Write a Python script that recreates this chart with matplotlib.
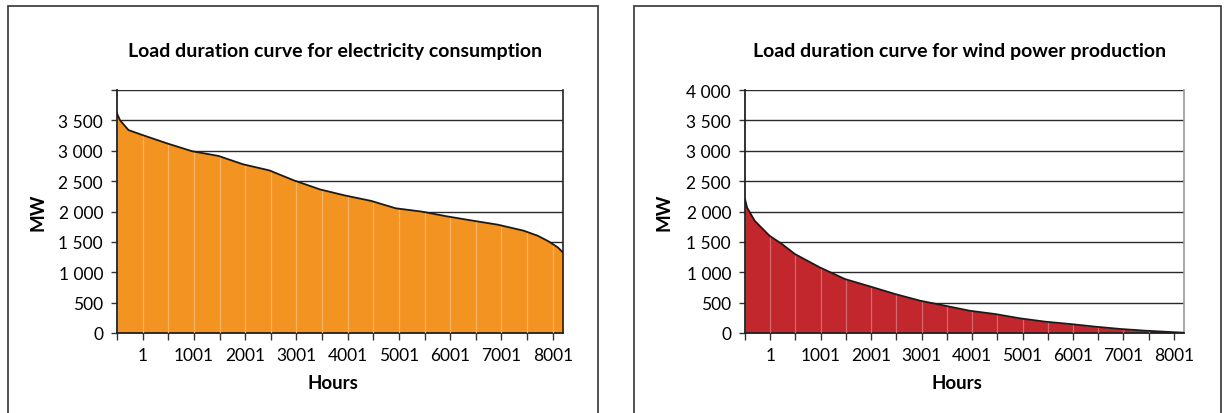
import numpy as np
import matplotlib
matplotlib.use("Agg")
import matplotlib.pyplot as plt
from matplotlib.patches import Rectangle

plt.rcParams['font.family'] = ['Lato', 'DejaVu Sans']

# hours position along the axis (axis runs 0..8700, label "1" sits at 500)
cons_hours = [0, 60, 225, 466, 985, 1466, 1977, 2459, 2970, 3451, 3962, 4451,
              4955, 5436, 5947, 6429, 6940, 7429, 7933, 8210, 8421, 8600, 8700]
cons_mw = [3615, 3500, 3340, 3268, 3119, 2992, 2915, 2777, 2677, 2512, 2363,
           2263, 2175, 2053, 1998, 1921, 1849, 1783, 1684, 1600, 1507, 1408, 1325]

wind_hours = [0, 40, 193, 487, 735, 990, 1485, 1980, 2475, 2977, 3472, 3967,
              4447, 4957, 5452, 5955, 6442, 6944, 7439, 7934, 8429, 8700]
wind_mw = [2203, 2066, 1846, 1600, 1463, 1299, 1079, 888, 767, 641, 531, 449,
           367, 312, 241, 186, 148, 104, 66, 38, 16, 5]

y_ticks = [0, 500, 1000, 1500, 2000, 2500, 3000, 3500, 4000]
y_labels = ["0", "500", "1 000", "1 500", "2 000", "2 500", "3 000", "3 500", "4 000"]
x_labels = ["1", "1001", "2001", "3001", "4001", "5001", "6001", "7001", "8001"]

W, H = 1227, 414
fig = plt.figure(figsize=(W / 100, H / 100), dpi=100)

# panel frames
for x0, x1 in [(8, 598), (634, 1221)]:
    fig.patches.append(Rectangle((x0 / W, -0.1), (x1 - x0) / W, 1.1 - 7 / H,
                                 transform=fig.transFigure, fill=False,
                                 edgecolor="#333333", linewidth=1.2))


def draw(ax, hours, mw, fill, light, title, rspine, show_top_label, tx, hx, mx):
    hours = np.array(hours)
    mw = np.array(mw)
    ax.set_xlim(0, 8700)
    ax.set_ylim(0, 4000)
    ax.set_yticks(y_ticks)
    labels = list(y_labels)
    if not show_top_label:
        labels[-1] = ""
    ax.set_yticklabels(labels, fontsize=12.5)
    for v in y_ticks[1:]:
        ax.axhline(v, color="#2a2a2a", lw=1.0, zorder=1)
    ax.fill_between(hours, 0, mw, color=fill, zorder=2, lw=0)
    ax.plot(hours, mw, color="#1a1a1a", lw=1.3, zorder=4)
    ticks = np.arange(0, 8700, 500)
    ax.vlines(ticks[1:], 0, np.interp(ticks[1:], hours, mw), color=light,
              lw=0.9, zorder=3)
    ax.set_xticks(ticks)
    xl = []
    for k in range(len(ticks)):
        xl.append(x_labels[k // 2] if k % 2 == 1 else "")
    ax.set_xticklabels(xl, fontsize=12.5)
    ax.tick_params(axis="x", length=5, width=1, color="#333333", pad=5)
    ax.tick_params(axis="y", length=4, width=1, color="#333333", pad=6)
    for s in ["left", "bottom"]:
        ax.spines[s].set_color("#222222")
        ax.spines[s].set_linewidth(1.3)
    ax.spines["top"].set_visible(False)
    ax.spines["right"].set_color(rspine)
    ax.spines["right"].set_linewidth(1.2)
    fig.text(tx / W, 1 - 52 / H, title, ha="center", va="center",
             fontsize=14, fontweight="bold")
    fig.text(hx / W, 1 - 384 / H, "Hours", ha="center", va="center",
             fontsize=13.5, fontweight="bold")
    fig.text(mx / W, 1 - 212 / H, "MW", ha="center", va="center",
             fontsize=13.5, fontweight="bold", rotation=90)


ax1 = fig.add_axes([117 / W, 1 - 334 / H, (563 - 117) / W, (334 - 91) / H])
draw(ax1, cons_hours, cons_mw, "#F39322", "#F8B462",
     "Load duration curve for electricity consumption", "#222222", False,
     335, 333, 38)

ax2 = fig.add_axes([745 / W, 1 - 334 / H, (1184 - 745) / W, (334 - 91) / H])
draw(ax2, wind_hours, wind_mw, "#C1272D", "#D4676B",
     "Load duration curve for wind power production", "#999999", True,
     960, 957, 664)

fig.savefig("out.png", dpi=100)
